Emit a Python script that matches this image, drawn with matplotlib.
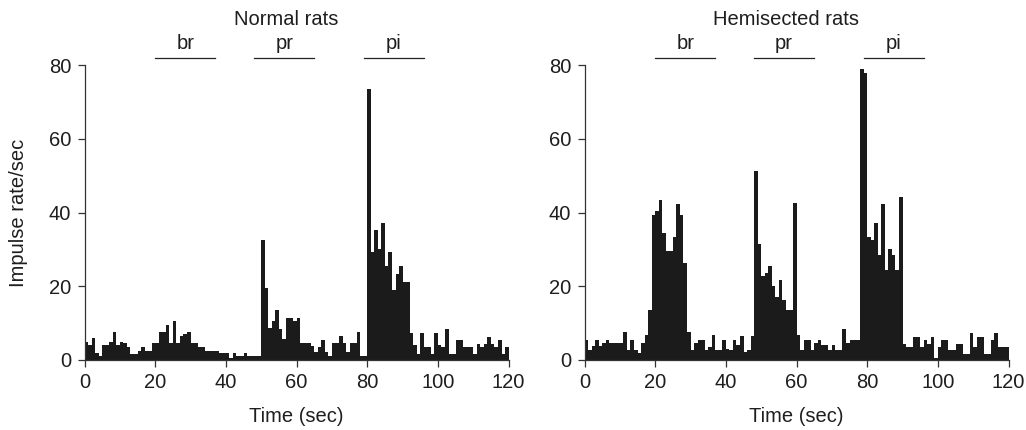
import numpy as np
import matplotlib
matplotlib.use('Agg')
import matplotlib.pyplot as plt

plt.rcParams['font.family'] = ['Liberation Sans', 'DejaVu Sans']

# 1-sec bins, 0..119
bin_start = list(range(120))

normal_rate = [
    5, 4, 6, 2, 1, 4, 4, 5, 7.5, 4,
    5, 4.5, 3.5, 1.5, 1.5, 2.5, 3.5, 2.5, 2.5, 4.5,
    4.5, 7.5, 7.5, 9.5, 4.5, 10.5, 4.5, 6.5, 7, 7.5,
    4.5, 4.5, 3.5, 3.5, 2.5, 2.5, 2.5, 2.5, 2, 2,
    2, 0.5, 2, 1.2, 1.2, 2, 1.2, 1.2, 1.2, 1.2,
    32.5, 19.4, 8.6, 10.5, 13.5, 8.5, 5.6, 11.5, 11.5, 10.5,
    11.5, 4.5, 4.5, 4.5, 3.8, 2.1, 3.6, 5.5, 2.1, 1.2,
    4.5, 4.5, 6.6, 4.5, 2.1, 4.5, 4.5, 7.5, 1.2, 1.2,
    73.5, 29.3, 35.2, 30.2, 37.2, 25.4, 29.3, 19, 23.4, 25.4,
    21.1, 21.1, 7.2, 4.1, 1.7, 7.2, 3.4, 3.4, 1.7, 7.2,
    4.1, 3.4, 8.4, 1.7, 1.7, 5.4, 5.4, 3.4, 3.4, 3.4,
    1.7, 4.3, 3.4, 4.3, 6.3, 4.3, 3.4, 5.4, 1.7, 3.4,
]

hemi_rate = [
    5.5, 2.7, 3.8, 5.5, 3.8, 4.5, 5.5, 4.5, 4.5, 4.5,
    4.5, 7.5, 2.7, 5.5, 2.7, 1.8, 4.5, 6.8, 13.5, 39.4,
    40.3, 43.4, 34.5, 29.7, 29.7, 33.5, 42.3, 39.4, 26.4, 7.5,
    2.7, 4.5, 5.5, 5.5, 2.7, 3.5, 6.8, 2.7, 2.7, 5.5,
    2.9, 2.7, 5.5, 4.1, 6.5, 2.3, 2.7, 6.5, 51.2, 31.5,
    22.9, 23.6, 25.6, 20, 17, 21.8, 16.4, 13.6, 13.6, 42.5,
    6.8, 2.7, 5.5, 5.5, 2.7, 4.7, 5.5, 4.1, 4.1, 2.7,
    4.1, 2.7, 2.7, 8.5, 4.5, 5.5, 5.5, 5.5, 79, 78,
    33.4, 32.5, 37.2, 28.4, 42.2, 24.5, 30.2, 28.4, 24.5, 44.1,
    4.3, 3.5, 3.5, 6.3, 6.3, 3.5, 5.4, 4.3, 6.3, 0.6,
    3.4, 5.4, 5.4, 2.6, 2.6, 4.3, 4.3, 1.7, 1.7, 7.2,
    3.5, 6.3, 6.3, 1.5, 1.5, 5.4, 7.2, 3.4, 3.4, 3.4,
]

# stimulus periods (sec)
stim_labels = ['br', 'pr', 'pi']
stim_start = [20, 48, 79]
stim_end = [37, 65, 96]

panel_titles = ['Normal rats', 'Hemisected rats']
xticks = [0, 20, 40, 60, 80, 100, 120]
yticks = [0, 20, 40, 60, 80]

txt = '#1e1e1e'
fs = 14.5

fig = plt.figure(figsize=(10.26, 4.30), dpi=100)
ax1 = fig.add_axes([0.0824, 0.1628, 0.4133, 0.6857])
ax2 = fig.add_axes([0.5697, 0.1628, 0.4133, 0.6857])

for ax, rate, title in zip([ax1, ax2], [normal_rate, hemi_rate], panel_titles):
    ax.bar(bin_start, rate, width=1.0, align='edge', color='#1b1b1b', linewidth=0)
    ax.set_xlim(0, 120)
    ax.set_ylim(0, 80)
    ax.set_xticks(xticks)
    ax.set_yticks(yticks)
    for s in ['top', 'right']:
        ax.spines[s].set_visible(False)
    for s in ['left', 'bottom']:
        ax.spines[s].set_linewidth(0.9)
        ax.spines[s].set_color('#333333')
    ax.tick_params(direction='out', length=5, width=0.9, color='#333333',
                   labelsize=fs, labelcolor=txt, pad=4.5)
    ax.set_xlabel('Time (sec)', fontsize=fs, color=txt, labelpad=11)

    # stimulus bars + labels above the plot
    for lab, a, b in zip(stim_labels, stim_start, stim_end):
        ax.plot([a, b], [82, 82], color='#222222', linewidth=0.9, clip_on=False)
        ax.text((a + b) / 2, 83.2, lab, ha='center', va='bottom', fontsize=fs, color=txt)
    ax.text(57, 92.5, title, ha='center', va='center', fontsize=fs, color=txt)

ax1.set_ylabel('Impulse rate/sec', fontsize=fs, color=txt, labelpad=15)

plt.savefig('out.png', dpi=100)
plt.close()
